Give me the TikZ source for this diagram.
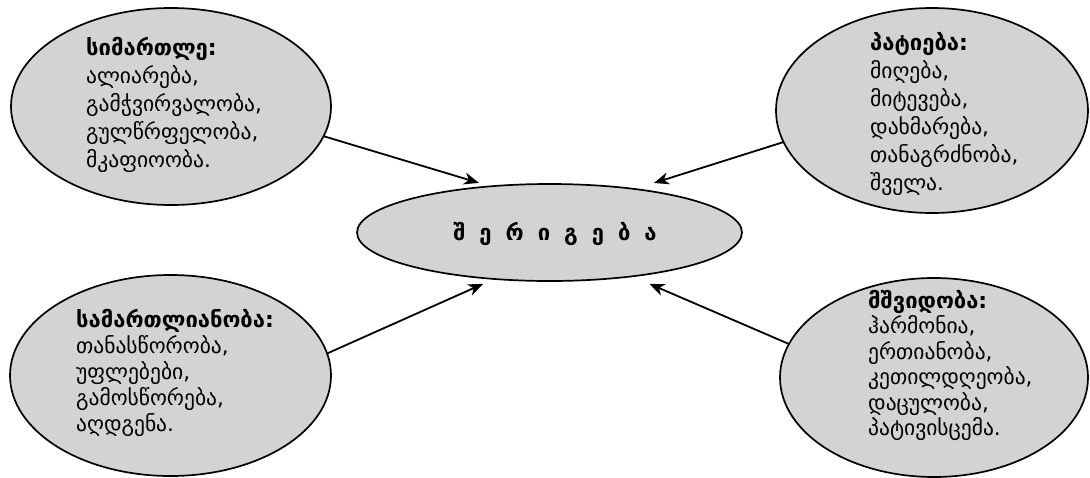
\documentclass[tikz,border=0pt]{standalone}
\usepackage{fontspec}
\setmainfont{DejaVu Sans}
\usetikzlibrary{shapes.geometric,arrows.meta}
\definecolor{egray}{RGB}{210,211,213}
\newcommand{\hd}[1]{{\fontsize{22}{22}\selectfont\bfseries #1}}
\begin{document}
\begin{tikzpicture}[x=1pt,y=-1pt,
  bub/.style={ellipse,draw=black,line width=1.7pt,fill=egray,inner sep=0pt,outer sep=0pt},
  conn/.style={line width=1.8pt,-{Stealth[length=15pt,width=12pt,inset=4.5pt]}},
  txt/.style={anchor=base west,inner sep=0pt}]
\useasboundingbox (0,0) rectangle (1090,477);
\node[bub,minimum width=320pt,minimum height=197pt] (e1) at (171,106.5) {};
\node[bub,minimum width=312pt,minimum height=205pt] (e2) at (932,110.5) {};
\node[bub,minimum width=321pt,minimum height=201pt] (e3) at (170.5,375.5) {};
\node[bub,minimum width=308pt,minimum height=199pt] (e4) at (934,377.5) {};
\node[bub,minimum width=385pt,minimum height=97pt] (c) at (549.5,232.5) {};
\node[txt,font=\fontsize{21.5}{28}\selectfont] (t1) at (86,55) {\begin{tabular}[t]{@{}l@{}}\hd{სიმართლე:}\\ალიარება,\\გამჭვირვალობა,\\გულწრფელობა,\\მკაფიოობა.\end{tabular}};
\node[txt,font=\fontsize{21.5}{28}\selectfont] (t2) at (870,50) {\begin{tabular}[t]{@{}l@{}}\hd{პატიება:}\\მიღება,\\მიტევება,\\დახმარება,\\თანაგრძნობა,\\შველა.\end{tabular}};
\node[txt,font=\fontsize{21.5}{26}\selectfont] (t3) at (76,327) {\begin{tabular}[t]{@{}l@{}}\hd{სამართლიანობა:}\\თანასწორობა,\\უფლებები,\\გამოსწორება,\\აღდგენა.\end{tabular}};
\node[txt,font=\fontsize{21.5}{25}\selectfont] (t4) at (868,308) {\begin{tabular}[t]{@{}l@{}}\hd{მშვიდობა:}\\ჰარმონია,\\ერთიანობა,\\კეთილდღეობა,\\დაცულობა,\\პატივისცემა.\end{tabular}};
\node[anchor=base,inner sep=0pt,font=\fontsize{22}{22}\selectfont\bfseries] (ct) at (555,240) {შ\hspace{14pt}ე\hspace{14pt}რ\hspace{14pt}ი\hspace{14pt}გ\hspace{14pt}ე\hspace{14pt}ბ\hspace{14pt}ა};
\draw[conn,shorten >=12pt] (e1.-11.6) -- (c.142.5);
\draw[conn,shorten >=20pt] (e2.192.8) -- (c.27.8);
\draw[conn,shorten >=12pt] (e3.8.2) -- (c.220);
\draw[conn,shorten >=19pt] (e4.167.3) -- (c.-28.4);
\end{tikzpicture}
\end{document}
